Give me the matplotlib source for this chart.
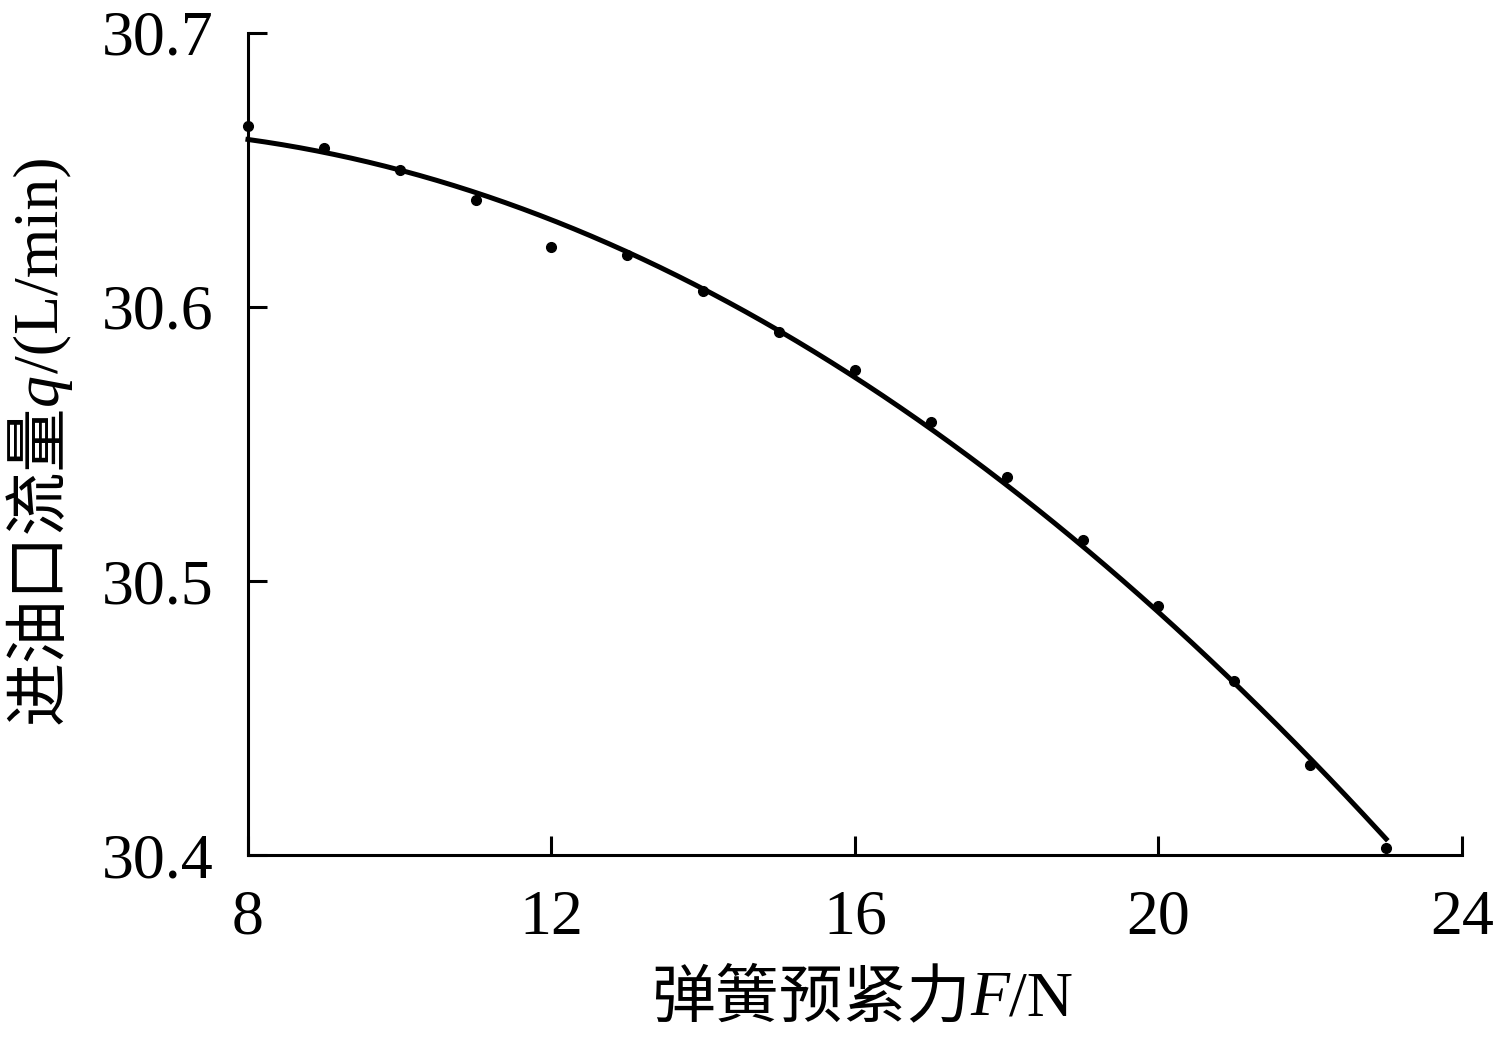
import numpy as np
import matplotlib
matplotlib.use('Agg')
import matplotlib.pyplot as plt

# spring preload F (N) and inlet flow q (L/min)
force = [8, 9, 10, 11, 12, 13, 14, 15, 16, 17, 18, 19, 20, 21, 22, 23]
flow = [30.666, 30.658, 30.650, 30.639, 30.622, 30.619, 30.606, 30.591,
        30.577, 30.558, 30.538, 30.515, 30.491, 30.4635, 30.433, 30.4026]
xticks = [8, 12, 16, 20, 24]
yticks = [30.4, 30.5, 30.6, 30.7]

fam = ['Liberation Serif', 'Noto Sans CJK SC']
fs = 46

fig = plt.figure(figsize=(15.01, 10.43), dpi=100)
ax = fig.add_axes([0.1652, 0.1802, 0.974 - 0.1652, 0.9684 - 0.1802])

# trend line: quadratic fit of the measured points
coef = np.polyfit(force, flow, 2)
xf = np.linspace(force[0], force[-1], 200)
ax.plot(xf, np.polyval(coef, xf), color='black', lw=3.6, clip_on=False)
ax.plot(force, flow, 'o', color='black', ms=7, clip_on=False)

ax.set_xlim(8, 24)
ax.set_ylim(30.4, 30.7)
ax.set_xticks(xticks)
ax.set_yticks(yticks)
ax.set_xticklabels([str(t) for t in xticks], family=fam, fontsize=fs)
ax.set_yticklabels(['%.1f' % t for t in yticks], family=fam, fontsize=fs)
ax.spines['top'].set_visible(False)
ax.spines['right'].set_visible(False)
for s in ('left', 'bottom'):
    ax.spines[s].set_linewidth(2.2)
ax.tick_params(direction='in', length=14, width=2.2, pad=25)


def compose(pieces, x, y, rotation):
    # place text pieces one after another, measured in pixels
    fig.canvas.draw()
    r = fig.canvas.get_renderer()
    texts = []
    for s, style in pieces:
        t = fig.text(0, 0, s, family=fam, style=style, fontsize=fs,
                     rotation=rotation, transform=None,
                     ha='left' if rotation == 0 else 'center',
                     va='center' if rotation == 0 else 'bottom')
        texts.append(t)
    sizes = []
    for t in texts:
        bb = t.get_window_extent(r)
        sizes.append(bb.width if rotation == 0 else bb.height)
    total = sum(sizes)
    pos = (x - total / 2) if rotation == 0 else (y - total / 2)
    for t, sz in zip(texts, sizes):
        if rotation == 0:
            t.set_position((pos, y))
        else:
            t.set_position((x, pos))
        pos += sz


H = 1043
compose([('弹簧预紧力', 'normal'), ('F', 'italic'), ('/N', 'normal')],
        862, H - 1000, 0)
compose([('进油口流量', 'normal'), ('q', 'italic'), ('/(L/min)', 'normal')],
        42, H - 440, 90)

fig.savefig('out.png', dpi=100)
